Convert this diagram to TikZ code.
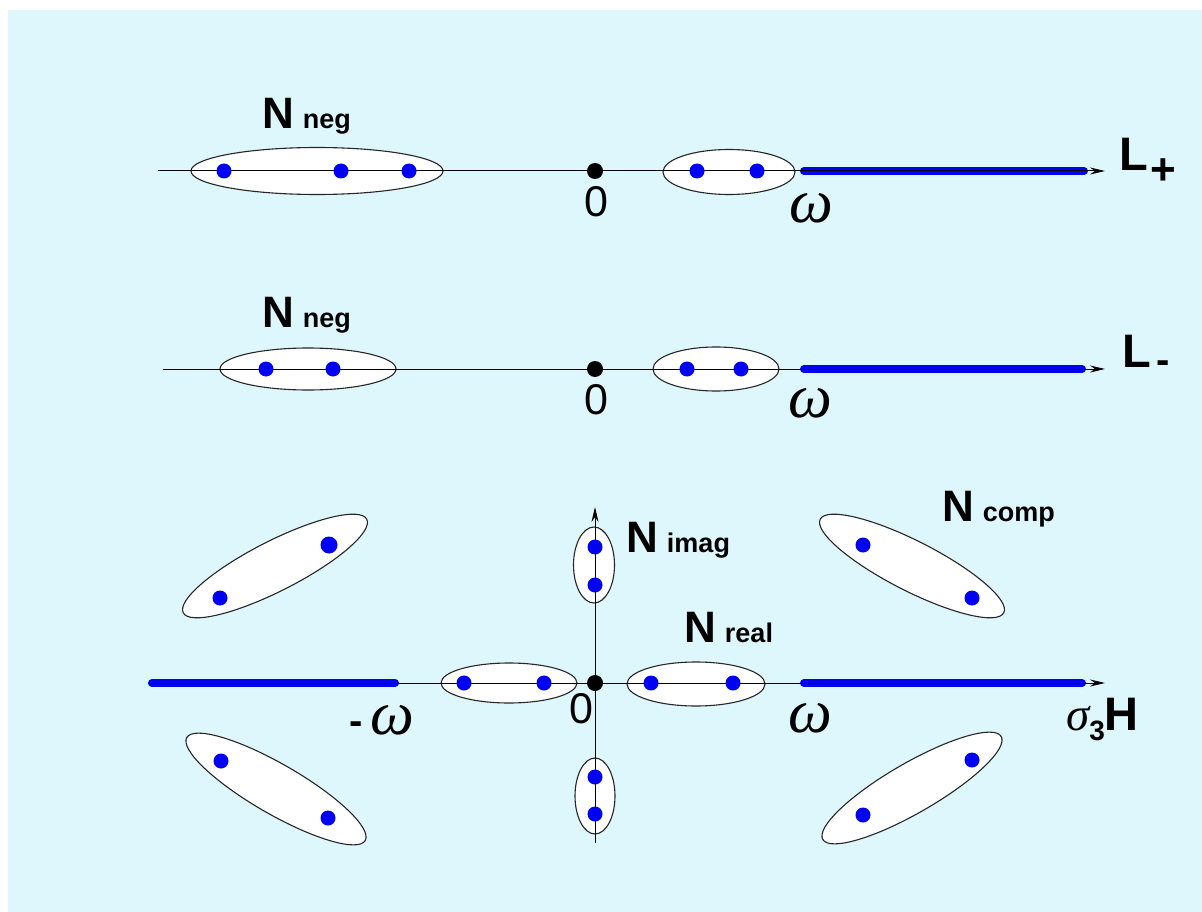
\documentclass[tikz,border=0pt]{standalone}
\usepackage{fontspec}
\setmainfont{Liberation Sans}
\newfontfamily\grk{Liberation Serif}
\usetikzlibrary{shapes.geometric,arrows.meta}
\definecolor{bgc}{RGB}{222,247,253}
\definecolor{ptblue}{RGB}{0,0,245}
\tikzset{
  grp/.style={ellipse, draw=black!85, fill=white, line width=1.1pt, inner sep=0pt},
  dotb/.style={circle, fill=ptblue, inner sep=0pt, minimum size=15pt},
  dotk/.style={circle, fill=black, inner sep=0pt, minimum size=16pt},
  axisline/.style={line width=1pt, -{Stealth[length=15pt,width=7pt]}},
  ray/.style={draw=ptblue, line width=8pt, line cap=round},
  lbl/.style={inner sep=0pt, anchor=base west, font=\fontsize{44}{44}\selectfont\bfseries},
  zlbl/.style={inner sep=0pt, font=\fontsize{43}{43}\selectfont},
  wlbl/.style={inner sep=0pt, font=\fontsize{62}{62}\selectfont\grk\itshape},
}
\newcommand{\sub}[1]{\hspace{9pt}{\fontsize{27}{27}\selectfont #1}}
\begin{document}
\begin{tikzpicture}[x=1pt,y=-1pt]
\useasboundingbox (0,0) rectangle (1202,912);
\fill[white] (0,0) rectangle (1202,912);
\fill[bgc] (8,10) rectangle (1202,912);

% ---------- Row 1 : L+ ----------
\coordinate (a0) at (158,171);
\coordinate (a1) at (1105,171);
\coordinate (ar0) at (804,171);
\coordinate (ar1) at (1084,171);
\node[grp, minimum width=252pt, minimum height=47pt] (A1) at (317,171) {};
\node[grp, minimum width=132pt, minimum height=45pt] (A2) at (729,172) {};
\draw[ray] (ar0) -- (ar1);
\draw[axisline] (a0) -- (a1);
\node[dotb] (a11) at (224,171) {};
\node[dotb] (a12) at (341,171) {};
\node[dotb] (a13) at (409,171) {};
\node[dotk] (a00) at (595,171) {};
\node[dotb] (a21) at (697,171) {};
\node[dotb] (a22) at (757,171) {};
\node[lbl] (Nneg1) at (262,129) {N\sub{neg}};
\node[lbl, font=\fontsize{47}{47}\selectfont\bfseries] (Lp) at (1119,171) {L\hspace{3pt}\raisebox{-14pt}{\fontsize{44}{44}\selectfont +}};
\node[zlbl] (z1) at (596,202) {0};
\node[wlbl] (w1) at (811,208) {ω};

% ---------- Row 2 : L- ----------
\coordinate (b0) at (163,369);
\coordinate (b1) at (1105,369);
\coordinate (br0) at (804,369);
\coordinate (br1) at (1082,369);
\node[grp, minimum width=176pt, minimum height=42pt] (B1) at (308,369) {};
\node[grp, minimum width=126pt, minimum height=44pt] (B2) at (716,369) {};
\draw[ray] (br0) -- (br1);
\draw[axisline] (b0) -- (b1);
\node[dotb] (b11) at (266,369) {};
\node[dotb] (b12) at (333,369) {};
\node[dotk] (b00) at (595,369) {};
\node[dotb] (b21) at (687,369) {};
\node[dotb] (b22) at (741,369) {};
\node[lbl] (Nneg2) at (262,327) {N\sub{neg}};
\node[lbl, font=\fontsize{47}{47}\selectfont\bfseries] (Lm) at (1122,367) {L\hspace{6pt}\raisebox{-6pt}{\fontsize{40}{40}\selectfont -}};
\node[zlbl] (z2) at (596,400) {0};
\node[wlbl] (w2) at (810,403) {ω};

% ---------- Row 3 : sigma_3 H ----------
\coordinate (c0) at (148,683);
\coordinate (c1) at (1105,683);
\coordinate (v0) at (595,843);
\coordinate (v1) at (595,507);
\coordinate (cl0) at (152,683);
\coordinate (cl1) at (395,683);
\coordinate (cr0) at (804,683);
\coordinate (cr1) at (1082,683);
\node[grp, minimum width=136pt, minimum height=40pt] (C1) at (509,683) {};
\node[grp, minimum width=138pt, minimum height=44pt] (C2) at (696,684) {};
\node[grp, minimum width=41pt, minimum height=76pt] (I1) at (594,565) {};
\node[grp, minimum width=40pt, minimum height=76pt] (I2) at (595,796) {};
\node[grp, minimum width=206pt, minimum height=50pt, rotate=27] (UL) at (275,566) {};
\node[grp, minimum width=206pt, minimum height=50pt, rotate=-27] (UR) at (912,566) {};
\node[grp, minimum width=206pt, minimum height=50pt, rotate=-30] (LL) at (276,789) {};
\node[grp, minimum width=206pt, minimum height=50pt, rotate=30] (LR) at (912,788) {};
\draw[ray] (cl0) -- (cl1);
\draw[ray] (cr0) -- (cr1);
\draw[axisline] (c0) -- (c1);
\draw[axisline] (v0) -- (v1);
\node[dotb] (c11) at (464,683) {};
\node[dotb] (c12) at (544,683) {};
\node[dotb] (c21) at (651,683) {};
\node[dotb] (c22) at (733,683) {};
\node[dotk] (c00) at (595,683) {};
\node[dotb] (i11) at (595,547) {};
\node[dotb] (i12) at (595,585) {};
\node[dotb] (i21) at (595,777) {};
\node[dotb] (i22) at (595,814) {};
\node[dotb] (ul1) at (220,598) {};
\node[dotb, minimum size=17pt] (ul2) at (329,545) {};
\node[dotb] (ur1) at (863,545) {};
\node[dotb] (ur2) at (972,598) {};
\node[dotb] (ll1) at (221,761) {};
\node[dotb] (ll2) at (328,818) {};
\node[dotb] (lr1) at (863,815) {};
\node[dotb] (lr2) at (972,760) {};
\node[lbl] (Nimag) at (626,552) {N\sub{imag}};
\node[lbl] (Nreal) at (684,642) {N\sub{real}};
\node[lbl] (Ncomp) at (942,521) {N\sub{comp}};
\node[zlbl] (z3) at (581,709) {0};
\node[wlbl] (w3) at (810,718) {ω};
\node[inner sep=0pt] (mw) at (382,720) {{\fontsize{40}{40}\selectfont\bfseries -}\hspace{8pt}{\fontsize{62}{62}\selectfont\grk\itshape ω}};
\node[lbl, font=\fontsize{47}{47}\selectfont\bfseries] (sH) at (1066,730) {{\grk\itshape\mdseries σ}\raisebox{-10pt}{\fontsize{28}{28}\selectfont 3}H};
\end{tikzpicture}
\end{document}
